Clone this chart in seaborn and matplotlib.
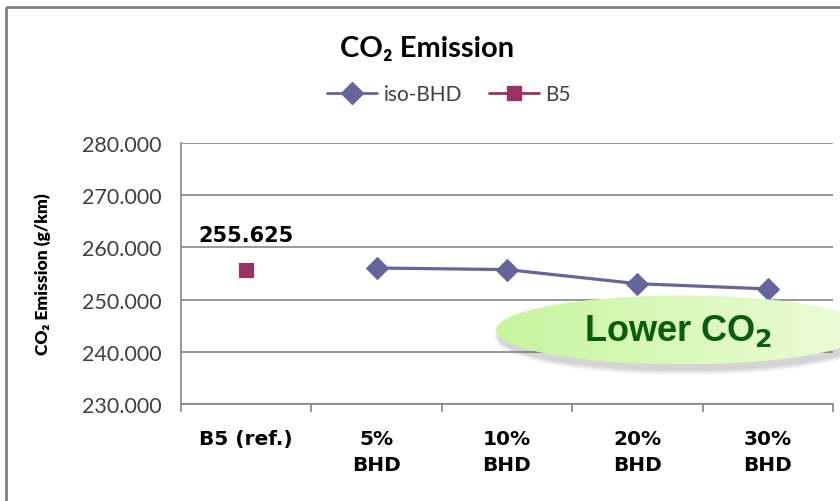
import numpy as np
import pandas as pd
import matplotlib
matplotlib.use("Agg")
import matplotlib.pyplot as plt
import seaborn as sns
from matplotlib.lines import Line2D
from matplotlib.patches import Ellipse, Rectangle

# data
categories = ["B5 (ref.)", "5%\nBHD", "10%\nBHD", "20%\nBHD", "30%\nBHD"]
b5_value = [255.625]
iso_bhd = [256.05, 255.75, 253.05, 252.05]
y_ticks = [230, 240, 250, 260, 270, 280]

sns.set_theme(style="white")
plt.rcParams["font.family"] = ["Lato", "DejaVu Sans"]

purple = "#65659e"
maroon = "#993366"
grid_gray = "#868686"

df_b5 = pd.DataFrame({"cat": categories[:1], "val": b5_value})
df_iso = pd.DataFrame({"cat": categories[1:], "val": iso_bhd})

fig = plt.figure(figsize=(8.4, 5.02), dpi=100)
ax = fig.add_axes([181/840, 1-405/502, 652/840, 261/502])

sns.scatterplot(data=df_b5, x="cat", y="val", ax=ax, marker="s", s=110,
                color=maroon, edgecolor=maroon, zorder=4)
sns.lineplot(data=df_iso, x="cat", y="val", ax=ax, marker="D", markersize=11,
             color=purple, markeredgecolor=purple, linewidth=2.3, zorder=3,
             sort=False)

ax.set_xlim(-0.5, len(categories) - 0.5)
ax.set_ylim(230, 280)
ax.set_yticks(y_ticks)
ax.set_yticklabels([f"{v:.3f}" for v in y_ticks], fontsize=15.5, color="#404040")
ax.set_xticks(range(len(categories)))
ax.set_xticklabels(categories, fontsize=14.5, fontweight="bold",
                   family="DejaVu Sans", linespacing=1.5, color="black")
ax.set_xticks(np.arange(-0.5, len(categories), 1.0), minor=True)
ax.tick_params(axis="x", which="major", length=0, pad=18)
ax.tick_params(axis="x", which="minor", length=6, width=1.2, color=grid_gray,
               direction="out", bottom=True)
ax.tick_params(axis="y", length=0, pad=14)

ax.grid(axis="y", color=grid_gray, linewidth=1.2)
ax.set_axisbelow(True)
for side in ["top", "right"]:
    ax.spines[side].set_visible(False)
for side in ["left", "bottom"]:
    ax.spines[side].set_color(grid_gray)
    ax.spines[side].set_linewidth(1.2)

ax.set_xlabel("")
ax.set_ylabel("CO₂ Emission (g/km)", fontsize=12.5, fontweight="heavy", color="black")
ax.yaxis.set_label_coords(-0.2, 0.5)

ax.annotate(f"{b5_value[0]:.3f}", (0, b5_value[0]), xytext=(0, 18),
            textcoords="offset points", ha="center", va="bottom",
            fontsize=15, fontweight="bold", family="DejaVu Sans", color="black")

fig.text(427/840, 1-49/502, "CO₂ Emission", ha="center", va="center",
         fontsize=21, fontweight="bold", color="black")

handles = [
    Line2D([], [], color=purple, marker="D", markersize=11, linewidth=2.0),
    Line2D([], [], color=maroon, marker="s", markersize=10, linewidth=2.0),
]
fig.legend(handles, ["iso-BHD", "B5"], loc="center", bbox_to_anchor=(449/840, 1-95/502),
           ncol=2, frameon=False, fontsize=15, handlelength=2.4, handletextpad=0.3,
           columnspacing=1.3, labelcolor="#404040")

# overlay in pixel coordinates for the callout and frame
ov = fig.add_axes([0, 0, 1, 1], zorder=10)
ov.set_xlim(0, 840)
ov.set_ylim(502, 0)
ov.axis("off")
ov.patch.set_alpha(0)

cx, cy, ew, eh = 682, 331, 372, 69
for i, a in enumerate([0.05, 0.07, 0.09, 0.11]):
    ov.add_patch(Ellipse((cx + 3, cy + 7), ew + 10 - 3 * i, eh + 8 - 3 * i,
                         facecolor="#707070", edgecolor="none", alpha=a))
ell = Ellipse((cx, cy), ew, eh, facecolor="none", edgecolor="none")
ov.add_patch(ell)
grad = np.linspace(0, 1, 256)
c0 = np.array([0.78, 0.96, 0.62])
c1 = np.array([0.93, 0.99, 0.85])
img = c0[None, :] * (1 - grad[:, None]) + c1[None, :] * grad[:, None]
img = img[None, :, :]
im = ov.imshow(img, extent=(cx - ew/2, cx + ew/2, cy + eh/2, cy - eh/2),
               aspect="auto", zorder=2)
im.set_clip_path(ell)
ov.set_xlim(0, 840)
ov.set_ylim(502, 0)
ov.text(cx - 4, cy, "Lower CO$_\\mathbf{2}$", ha="center", va="center",
        fontsize=26, fontweight="bold", family="Liberation Sans",
        color="#0b5c0b", zorder=3)

ov.add_patch(Rectangle((6, 8), 900, 600, fill=False, edgecolor="#808080",
                       linewidth=2, zorder=5))

fig.savefig("out.png", dpi=100)
